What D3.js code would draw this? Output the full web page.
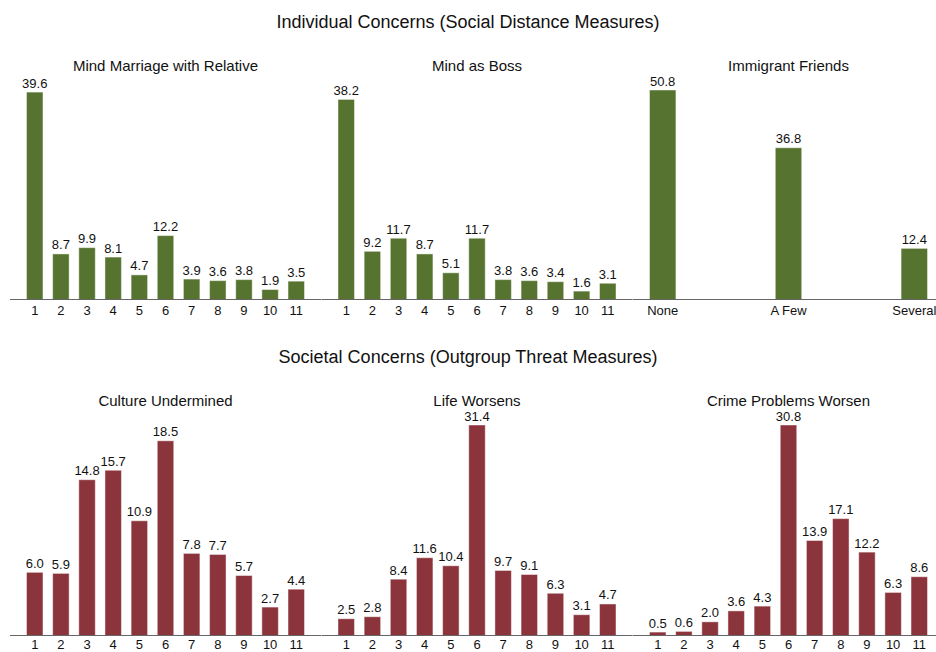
<!DOCTYPE html>
<html>
<head>
<meta charset="utf-8">
<script src="https://cdn.jsdelivr.net/npm/d3@7"></script>
<style>
  html, body { margin: 0; padding: 0; background: #fff; }
  svg { display: block; font-family: "Liberation Sans", Arial, sans-serif; }
</style>
</head>
<body>
<svg id="chart" width="936" height="652"></svg>
<script>
// ---- data ----
const scaleCats = ["1","2","3","4","5","6","7","8","9","10","11"];
const friendCats = ["None","A Few","Several"];

const rowTitles = ["Individual Concerns (Social Distance Measures)", "Societal Concerns (Outgroup Threat Measures)"];

const panelTitlesTop = ["Mind Marriage with Relative", "Mind as Boss", "Immigrant Friends"];
const panelTitlesBottom = ["Culture Undermined", "Life Worsens", "Crime Problems Worsen"];

const marriageValues = [39.6, 8.7, 9.9, 8.1, 4.7, 12.2, 3.9, 3.6, 3.8, 1.9, 3.5];
const bossValues     = [38.2, 9.2, 11.7, 8.7, 5.1, 11.7, 3.8, 3.6, 3.4, 1.6, 3.1];
const friendsValues  = [50.8, 36.8, 12.4];

const cultureValues  = [6.0, 5.9, 14.8, 15.7, 10.9, 18.5, 7.8, 7.7, 5.7, 2.7, 4.4];
const lifeValues     = [2.5, 2.8, 8.4, 11.6, 10.4, 31.4, 9.7, 9.1, 6.3, 3.1, 4.7];
const crimeValues    = [0.5, 0.6, 2.0, 3.6, 4.3, 30.8, 13.9, 17.1, 12.2, 6.3, 8.6];

// y-axis maxima used by each panel
const yMaxTop = [40, 40, 50.8];
const yMaxBottom = [20, 31.4, 30.8];

// ---- layout ----
const svg = d3.select("#chart");
svg.append("rect").attr("width", 936).attr("height", 652).attr("fill", "#fff");

const panelX0 = 10, panelStep = 311.5, panelW = 311, innerPad = 16.5;
const green = "#56742F", red = "#8C343C";

const rows = [
  { title: rowTitles[0], titleY: 28, panelTitleY: 71, top: 90, base: 299.5, tickOff: 15, color: green,
    panels: [
      { title: panelTitlesTop[0], cats: scaleCats, vals: marriageValues, ymax: yMaxTop[0] },
      { title: panelTitlesTop[1], cats: scaleCats, vals: bossValues, ymax: yMaxTop[1] },
      { title: panelTitlesTop[2], cats: friendCats, vals: friendsValues, ymax: yMaxTop[2] }
    ] },
  { title: rowTitles[1], titleY: 363, panelTitleY: 406, top: 425, base: 635.5, tickOff: 13, color: red,
    panels: [
      { title: panelTitlesBottom[0], cats: scaleCats, vals: cultureValues, ymax: yMaxBottom[0] },
      { title: panelTitlesBottom[1], cats: scaleCats, vals: lifeValues, ymax: yMaxBottom[1] },
      { title: panelTitlesBottom[2], cats: scaleCats, vals: crimeValues, ymax: yMaxBottom[2] }
    ] }
];

rows.forEach(row => {
  svg.append("text")
    .attr("x", 468).attr("y", row.titleY)
    .attr("text-anchor", "middle")
    .attr("font-size", 18).attr("fill", "#111")
    .text(row.title);

  row.panels.forEach((p, i) => {
    const x0 = panelX0 + i * panelStep;
    const g = svg.append("g");

    const x = d3.scaleBand()
      .domain(p.cats)
      .range([x0 + innerPad, x0 + panelW - innerPad])
      .paddingInner(p.cats.length > 5 ? 0.37 : 0.79)
      .paddingOuter(0);

    const y = d3.scaleLinear()
      .domain([0, p.ymax])
      .range([row.base, row.top]);

    g.append("text")
      .attr("x", x0 + panelW / 2).attr("y", row.panelTitleY)
      .attr("text-anchor", "middle")
      .attr("font-size", 15).attr("fill", "#111")
      .text(p.title);

    const data = p.cats.map((c, k) => ({ c, v: p.vals[k] }));

    g.selectAll("rect.bar").data(data).join("rect")
      .attr("class", "bar")
      .attr("x", d => x(d.c))
      .attr("width", x.bandwidth())
      .attr("y", d => y(d.v))
      .attr("height", d => y(0) - y(d.v))
      .attr("fill", row.color)
      .attr("stroke", "rgba(255,255,255,0.45)")
      .attr("stroke-width", 1);

    g.selectAll("text.val").data(data).join("text")
      .attr("class", "val")
      .attr("x", d => x(d.c) + x.bandwidth() / 2)
      .attr("y", d => y(d.v) - 4.5)
      .attr("text-anchor", "middle")
      .attr("font-size", 13).attr("fill", "#111")
      .text(d => d.v.toFixed(1));

    const axis = d3.axisBottom(x).tickSize(0).tickPadding(0);
    const ag = g.append("g")
      .attr("transform", `translate(0,${row.base})`)
      .call(axis);
    ag.select(".domain").remove();
    ag.selectAll("text")
      .attr("y", row.tickOff).attr("dy", null)
      .attr("font-size", 13).attr("fill", "#111")
      .attr("font-family", "Liberation Sans, Arial, sans-serif");

    g.append("line")
      .attr("x1", x0).attr("x2", x0 + panelW)
      .attr("y1", row.base).attr("y2", row.base)
      .attr("stroke", "#666").attr("stroke-width", 1);
  });
});
</script>
</body>
</html>
